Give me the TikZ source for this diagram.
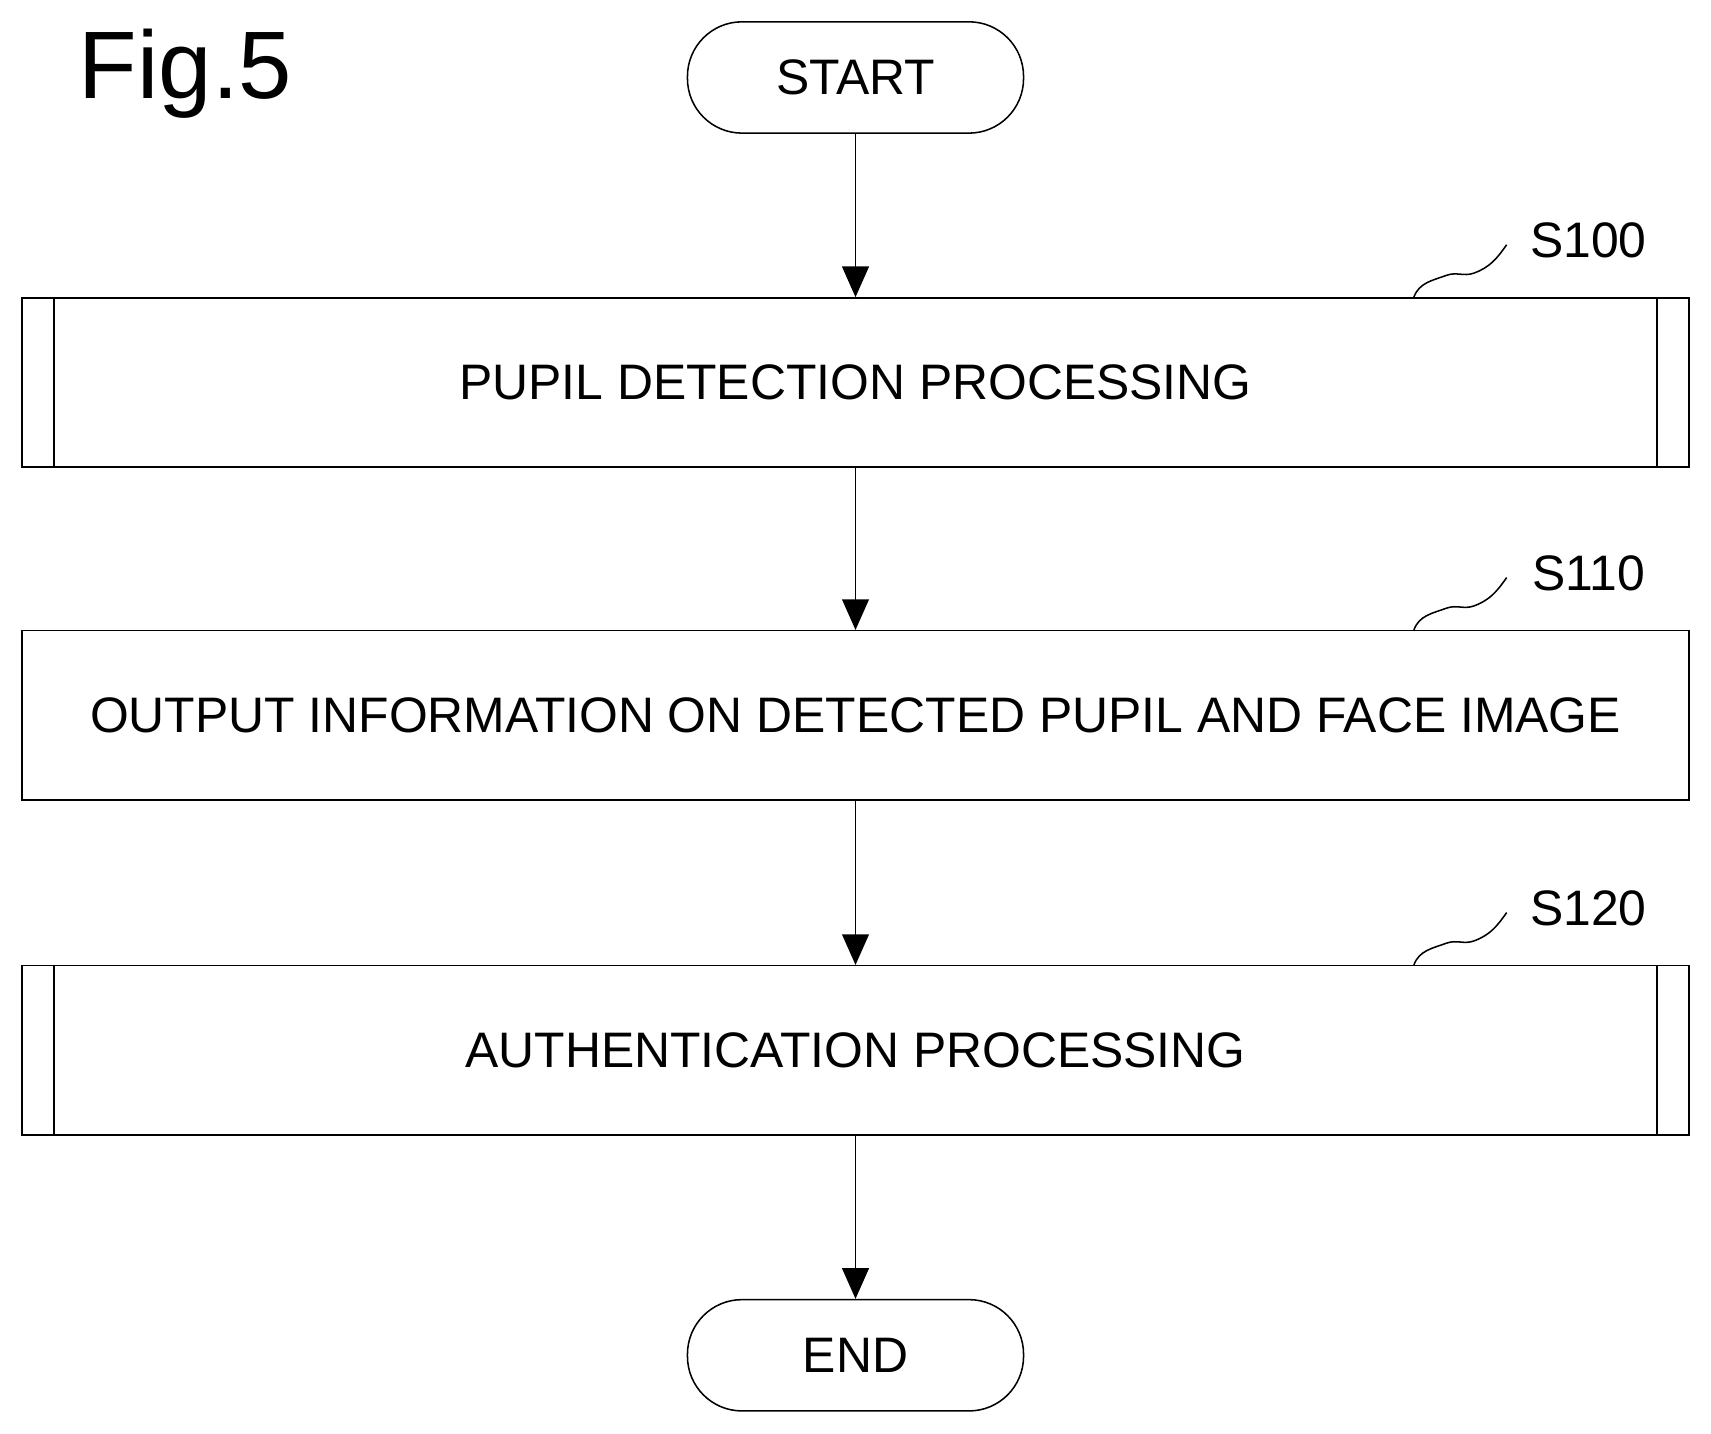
\documentclass[tikz,border=0pt]{standalone}
\usepackage{fontspec}
\setmainfont{Liberation Sans}
\usetikzlibrary{positioning, arrows.meta}
\tikzset{
	term/.style={draw, rounded corners=0.5cm, minimum width=3.08cm, minimum height=1.02cm, font=\fontsize{13}{15}\selectfont},
	proc/.style={draw, minimum width=15.28cm, minimum height=1.55cm, font=\fontsize{13}{15}\selectfont},
	flow/.style={arrows={-Triangle[length=8pt, width=7pt]}},
	steplabel/.style={font=\fontsize{13}{15}\selectfont},
}
\begin{document}
\begin{tikzpicture}
	\useasboundingbox (0,0) rectangle (15.68,-13.14);
	\node [font=\fontsize{25}{28}\selectfont] (fig) at (1.70,-0.68) {Fig.5};
	\node [term] (start) at (7.84,-0.71) {START};
	\node [proc] (pupil) at (7.84,-3.505) {PUPIL DETECTION PROCESSING};
	\node [proc] (output) at (7.84,-6.555) {OUTPUT INFORMATION ON DETECTED PUPIL AND FACE IMAGE};
	\node [proc] (auth) at (7.84,-9.625) {AUTHENTICATION PROCESSING};
	\node [term] (end) at (7.84,-12.42) {END};
	% subroutine sides
	\foreach \n in {pupil, auth} {
		\draw ([xshift=0.30cm]\n.north west) -- ([xshift=0.30cm]\n.south west);
		\draw ([xshift=-0.30cm]\n.north east) -- ([xshift=-0.30cm]\n.south east);
	}
	% step labels
	\foreach \n/\s in {pupil/S100, output/S110, auth/S120} {
		\node [steplabel] (\s) at ([xshift=-0.93cm, yshift=0.52cm]\n.north east) {\s};
		\draw ([xshift=-2.53cm]\n.north east) to[out=70, in=200] ++(0.3,0.2)
			to[out=20, in=200] ++(0.25,0.02) to[out=20, in=235] ++(0.3,0.26);
	}
	\draw [flow] (start) -- (pupil);
	\draw [flow] (pupil) -- (output);
	\draw [flow] (output) -- (auth);
	\draw [flow] (auth) -- (end);
\end{tikzpicture}
\end{document}
